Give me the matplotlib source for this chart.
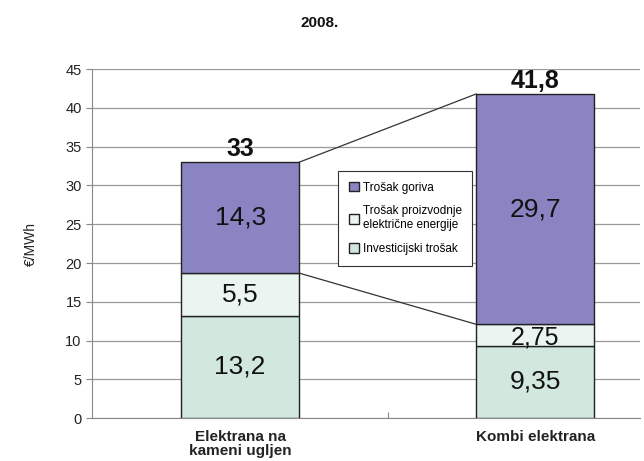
import matplotlib
matplotlib.use("Agg")
import matplotlib.pyplot as plt
import numpy as np

plt.rcParams['font.family'] = ['Liberation Sans', 'DejaVu Sans']

categories = ["Elektrana na\nkameni ugljen", "Kombi elektrana"]
invest = [13.2, 9.35]
proizvodnja = [5.5, 2.75]
gorivo = [14.3, 29.7]
totals = ["33", "41,8"]
labels_invest = ["13,2", "9,35"]
labels_proiz = ["5,5", "2,75"]
labels_gorivo = ["14,3", "29,7"]
series_names = ["Trošak goriva", "Trošak proizvodnje\nelektrične energije", "Investicijski trošak"]

C_GOR = '#8A84C2'
C_PRO = '#EAF4F0'
C_INV = '#D2E8DF'

fig = plt.figure(figsize=(6.44, 4.61), dpi=100)
ax = fig.add_axes([0.143, 0.093, 0.851, 0.757])

x = np.arange(len(categories))
w = 0.40
inv = np.array(invest)
pro = np.array(proizvodnja)
gor = np.array(gorivo)

b_inv = ax.bar(x, inv, w, color=C_INV, edgecolor='#222222', linewidth=1.0, zorder=3)
b_pro = ax.bar(x, pro, w, bottom=inv, color=C_PRO, edgecolor='#222222', linewidth=1.0, zorder=3)
b_gor = ax.bar(x, gor, w, bottom=inv + pro, color=C_GOR, edgecolor='#222222', linewidth=1.0, zorder=3)

for i in range(len(x)):
    ax.text(x[i], inv[i] / 2, labels_invest[i], ha='center', va='center', fontsize=19, color='#111111', zorder=4)
    ax.text(x[i], inv[i] + pro[i] / 2 - (0.3 if i == 1 else 0), labels_proiz[i], ha='center', va='center',
            fontsize=19 if i == 0 else 18, color='#111111', zorder=4)
    ax.text(x[i], inv[i] + pro[i] + gor[i] / 2, labels_gorivo[i], ha='center', va='center', fontsize=19, color='#111111', zorder=4)
    ax.text(x[i], inv[i] + pro[i] + gor[i] + 0.1, totals[i], ha='center', va='bottom', fontsize=18, fontweight='bold', color='#111111', zorder=4)

# connecting lines between bars
top = inv + pro + gor
mid = inv + pro
ax.plot([x[0] + w / 2, x[1] - w / 2], [top[0], top[1]], color='#333333', linewidth=0.9, zorder=2)
ax.plot([x[0] + w / 2, x[1] - w / 2], [mid[0], mid[1]], color='#333333', linewidth=0.9, zorder=2)

ax.set_xlim(-0.502, 1.356)
ax.set_ylim(0, 45)
ax.set_yticks(np.arange(0, 46, 5))
ax.set_xticks([0.5])
ax.set_xticklabels([""])
ax.tick_params(axis='x', length=4, color='#888888', direction='in')
ax.tick_params(axis='y', length=4, color='#888888', labelsize=10.5, labelcolor='#222222')
for i, c in enumerate(categories):
    ax.text(x[i], -1.5, c, ha='center', va='top', fontsize=11, fontweight='bold', color='#222222', linespacing=1.0)

ax.grid(axis='y', color='#999999', linewidth=0.9, zorder=0)
for s in ['top', 'right']:
    ax.spines[s].set_visible(False)
ax.spines['left'].set_color('#888888')
ax.spines['bottom'].set_color('#888888')
ax.set_ylabel("€/MWh", fontsize=10, color='#222222', labelpad=20)

leg = ax.legend([b_gor, b_pro, b_inv], series_names, loc='upper left',
                bbox_to_anchor=(0.438, 0.725), fontsize=8.5, frameon=True, fancybox=False,
                edgecolor='#333333', handlelength=0.9, handleheight=0.9, handletextpad=0.3,
                borderpad=0.9, labelspacing=1.0, framealpha=1)
leg.get_frame().set_linewidth(0.8)

fig.text(0.497, 0.950, "2008.", ha='center', va='center', fontsize=11, fontweight='bold', color='#111111')

fig.savefig("out.png", dpi=100, facecolor='white')
